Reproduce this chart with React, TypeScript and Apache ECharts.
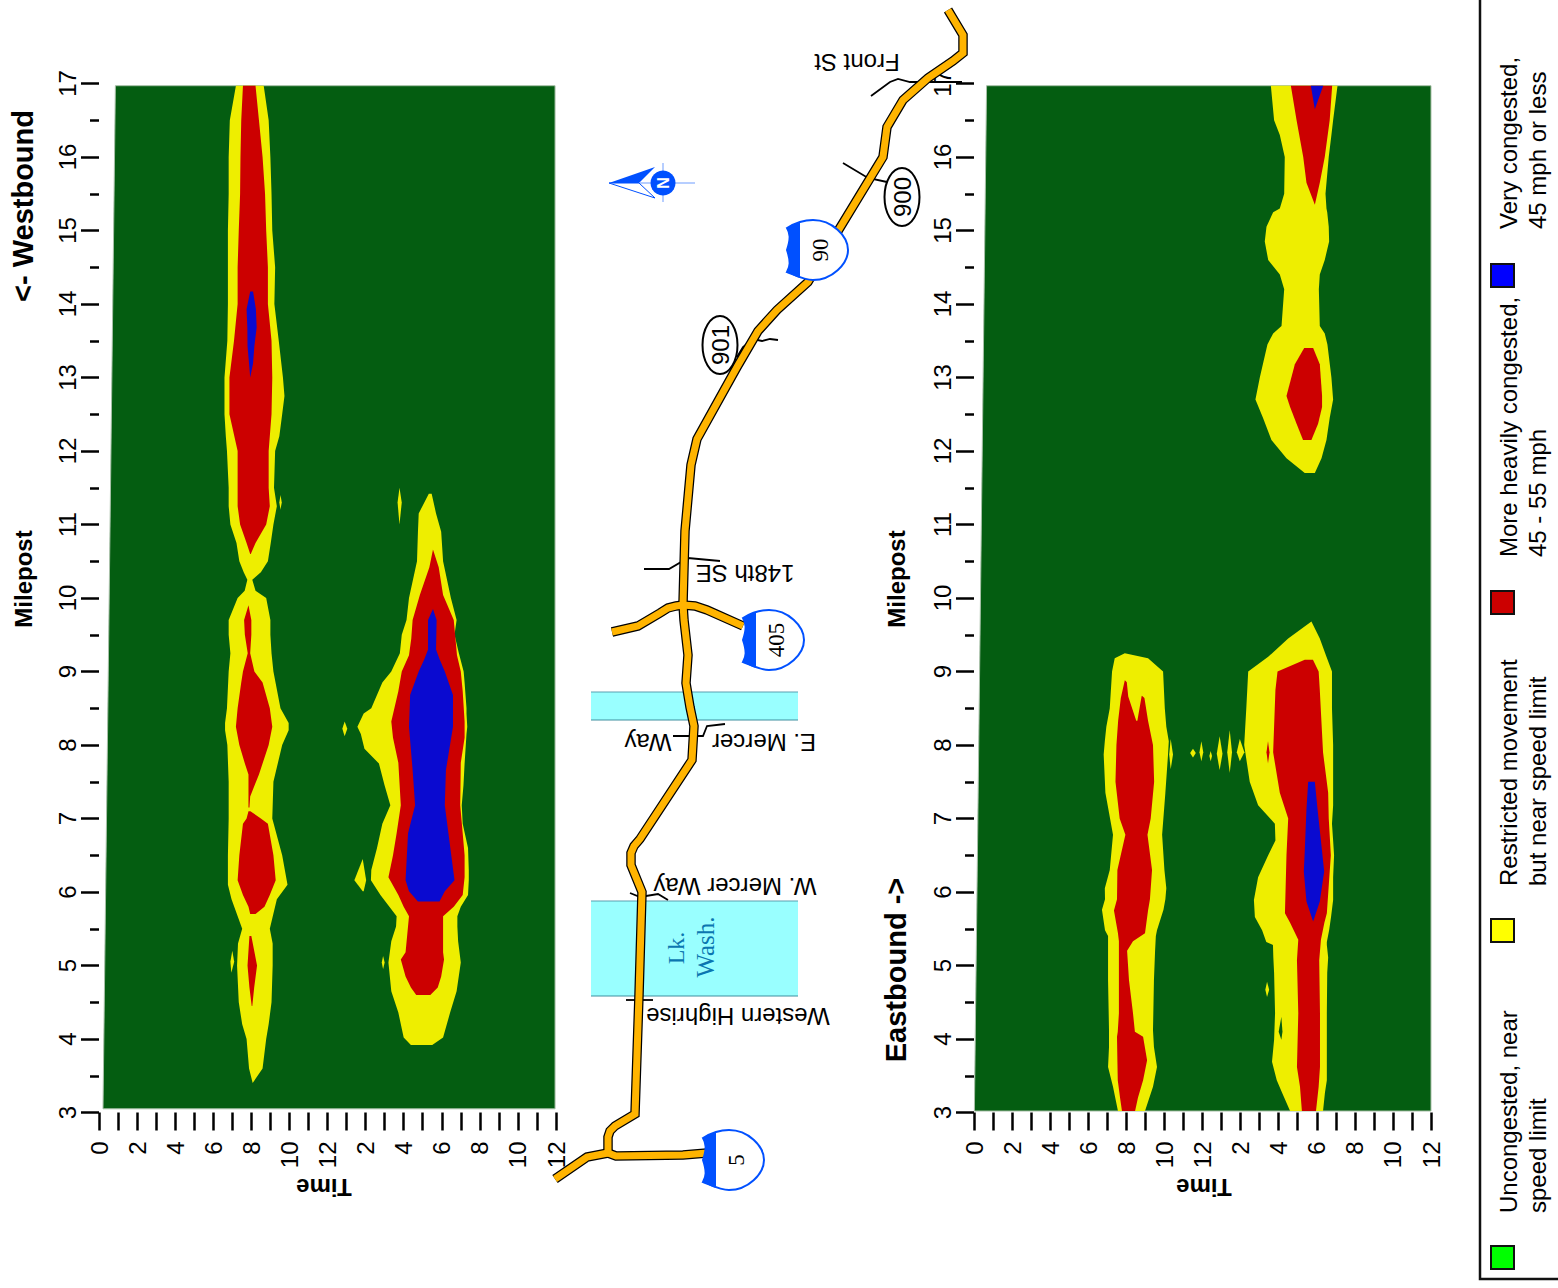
import React, { useEffect, useRef } from "react";
import * as echarts from "echarts";

type Row = [number, number, number]; // milepost, left hour, right hour
type Pt = [number, number];

const timeTickLabels = ["0", "2", "4", "6", "8", "10", "12", "2", "4", "6", "8", "10", "12"];

const westFrame: Pt[] = [[0.21, 3.05], [23.95, 3.05], [23.95, 16.97], [0.86, 16.97]];
const eastFrame: Pt[] = [[0.02, 3.02], [24, 3.02], [24, 16.97], [0.66, 16.97]];

// ---- Westbound, morning
const westAmYellow: Row[] = [
  [16.97, 7.19, 8.65], [16.5, 6.87, 8.91], [16, 6.81, 9.0], [15.5, 6.81, 9.06], [15, 6.77, 9.1], [14.5, 6.77, 9.25],
  [14, 6.77, 9.21], [13.5, 6.74, 9.44], [13, 6.59, 9.66], [12.75, 6.59, 9.74], [12.5, 6.59, 9.62], [12.2, 6.66, 9.47],
  [12, 6.72, 9.25], [11.5, 6.81, 9.19], [11.25, 6.81, 9.34], [11, 6.9, 9.16], [10.75, 7.22, 9.02], [10.5, 7.37, 8.87],
  [10.35, 7.6, 8.5], [10.25, 7.79, 8.05], [10.1, 7.65, 8.22], [10, 7.28, 8.78], [9.7, 6.81, 9.0], [9.5, 6.81, 9.0],
  [9.25, 6.9, 9.06], [9, 6.81, 9.16], [8.5, 6.72, 9.53], [8.3, 6.62, 9.96], [8.2, 6.62, 9.96], [8, 6.74, 9.62],
  [7.5, 6.81, 9.16], [7, 6.81, 9.1], [6.5, 6.77, 9.62], [6.1, 6.77, 9.9], [5.9, 6.96, 9.34], [5.5, 7.52, 8.97],
  [5.3, 7.3, 9.12], [5, 7.25, 9.12], [4.5, 7.34, 9.06], [4.2, 7.52, 8.91], [4, 7.75, 8.78], [3.6, 7.88, 8.59], [3.4, 8.07, 8.07],
];
const westAmBlob1: Row[] = [[11.4, 9.53, 9.53], [11.3, 9.47, 9.6], [11.2, 9.53, 9.53]];
const westAmBlob2: Row[] = [[5.2, 7.0, 7.0], [5.05, 6.9, 7.1], [4.9, 6.95, 6.95]];
const westAmRed1: Row[] = [
  [16.97, 7.56, 8.22], [16.5, 7.47, 8.4], [16, 7.43, 8.59], [15.5, 7.41, 8.72], [15, 7.34, 8.78], [14.5, 7.28, 8.87],
  [14, 7.28, 8.87], [13.5, 7.09, 9.06], [13, 6.85, 9.1], [12.5, 6.85, 9.06], [12, 7.28, 8.91], [11.5, 7.28, 8.91],
  [11.25, 7.28, 8.97], [11, 7.41, 8.78], [10.75, 7.75, 8.22], [10.6, 7.94, 7.97],
];
const westAmRed2: Row[] = [
  [9.9, 7.85, 7.85], [9.7, 7.62, 8.0], [9.5, 7.66, 8.0], [9.25, 7.81, 7.94], [9, 7.56, 8.16], [8.85, 7.47, 8.59],
  [8.5, 7.28, 8.97], [8.25, 7.19, 9.1], [8, 7.37, 8.91], [7.75, 7.66, 8.59], [7.6, 7.85, 8.4], [7.3, 7.85, 7.94], [7.15, 7.85, 7.9],
];
const westAmRed3: Row[] = [
  [7.1, 7.85, 7.95], [7, 7.75, 8.5], [6.93, 7.56, 8.87], [6.5, 7.37, 9.16], [6.16, 7.28, 9.28], [5.96, 7.56, 8.97], [5.8, 7.85, 8.69], [5.7, 7.94, 8.22],
];
const westAmRed4: Row[] = [
  [5.4, 7.9, 8.0], [5.0, 7.8, 8.3], [4.7, 7.9, 8.15], [4.45, 8.02, 8.05],
];
const westAmBlue: Row[] = [
  [14.17, 7.94, 8.09], [13.93, 7.75, 8.24], [13.68, 7.79, 8.28], [13.43, 7.8, 8.16], [13.19, 7.88, 8.09], [13, 7.94, 7.94],
];

// ---- Westbound, afternoon
const westPmYellow: Row[] = [
  [11.42, 17.32, 17.47], [11.15, 16.79, 17.7], [10.9, 16.75, 17.97], [10.5, 16.7, 18.07], [10, 16.28, 18.48], [9.7, 16.15, 18.78],
  [9.5, 15.9, 18.67], [9.25, 15.8, 18.9], [9, 15.35, 19.15], [8.85, 14.88, 19.2], [8.5, 14.3, 19.3], [8.43, 13.9, 19.3],
  [8.25, 13.57, 19.34], [8.15, 13.75, 19.3], [7.95, 13.94, 19.25], [7.75, 14.7, 19.2], [7.45, 15, 19.14], [7.18, 15.3, 19.05],
  [6.93, 14.88, 19.1], [6.6, 14.6, 19.38], [6.3, 14.3, 19.42], [6.16, 14.28, 19.42], [5.96, 14.78, 19.38], [5.8, 15.25, 19],
  [5.67, 15.63, 18.82], [5.53, 15.6, 18.82], [5.33, 15.35, 18.86], [5.04, 15.2, 19], [4.65, 15.35, 18.78], [4.36, 15.72, 18.44],
  [4.02, 16, 18.07], [3.92, 16.38, 17.5],
];
const westPmBlob1: Row[] = [[8.32, 12.9, 12.9], [8.22, 12.78, 13.04], [8.12, 12.9, 12.9]];
const westPmBlob2: Row[] = [[6.45, 13.85, 13.85], [6.16, 13.41, 14.03], [6.01, 13.85, 13.9]];
const westPmBlob3: Row[] = [[5.13, 14.92, 14.92], [5.04, 14.85, 15.0], [4.95, 14.92, 14.92]];
const westPmBlob4: Row[] = [[11.5, 15.78, 15.78], [11.3, 15.68, 15.9], [11.0, 15.78, 15.78]];
const westPmRed: Row[] = [
  [10.66, 17.54, 17.54], [10.42, 17.35, 17.84], [10.04, 16.85, 18.07], [9.7, 16.47, 18.63], [9.45, 16.4, 18.72], [9.22, 16.28, 18.8],
  [9, 15.9, 19.0], [8.73, 15.72, 19.1], [8.32, 15.35, 19.2], [8.1, 15.44, 19.2], [7.76, 15.72, 19], [7.18, 15.85, 18.97],
  [6.8, 15.63, 19.1], [6.5, 15.44, 19.2], [6.2, 15.2, 19.2], [5.96, 15.72, 19.1], [5.8, 16, 18.63], [5.67, 16.28, 18.07],
  [5.18, 16.1, 18.07], [5.08, 15.85, 18.12], [4.85, 16.1, 17.97], [4.7, 16.38, 17.79], [4.6, 16.66, 17.4],
];
const westPmBlue: Row[] = [
  [9.85, 17.54, 17.54], [9.7, 17.28, 17.73], [9.3, 17.28, 17.7], [9.17, 17.09, 17.88], [9, 16.79, 18.16], [8.68, 16.34, 18.59],
  [8.25, 16.28, 18.59], [7.66, 16.47, 18.22], [7.18, 16.6, 18.16], [6.8, 16.23, 18.35], [6.16, 16.1, 18.67], [6.01, 16.28, 18.16], [5.87, 16.75, 17.88],
];

// ---- Eastbound, morning
const eastAmYellow: Row[] = [
  [9.25, 7.92, 7.92], [9.18, 7.39, 9.14], [9, 7.25, 9.93], [8.5, 7.13, 10.02], [8.25, 6.95, 10.1], [8.05, 6.87, 10.23],
  [7.87, 6.81, 10.19], [7.35, 6.9, 10.05], [6.78, 7.3, 9.88], [6.3, 7.13, 10.0], [6.05, 6.87, 10.1], [5.9, 6.88, 10.05], [5.76, 6.72, 9.95],
  [5.48, 6.88, 9.61], [5.4, 7.04, 9.55], [5.2, 7.04, 9.51], [4.8, 7.04, 9.45], [4.12, 7.09, 9.4], [3.89, 7.09, 9.45], [3.62, 7.04, 9.61],
  [3.35, 7.3, 9.4], [3.02, 7.56, 8.98],
];
const eastAmRed: Row[] = [
  [8.88, 7.92, 7.92], [8.64, 7.71, 8.95], [8.33, 7.57, 9.14], [8, 7.48, 9.4], [7.5, 7.43, 9.46], [7, 7.65, 9.28],
  [6.78, 7.95, 9.11], [6.3, 7.53, 9.35], [5.9, 7.51, 9.24], [5.75, 7.35, 9.14], [5.44, 7.56, 8.98], [5.33, 7.61, 8.35], [5.2, 7.61, 8.04],
  [4.8, 7.61, 8.14], [4.35, 7.61, 8.35], [4.1, 7.55, 8.45], [4.03, 7.51, 8.88], [3.71, 7.53, 9.09], [3.44, 7.55, 8.88], [3.2, 7.67, 8.61],
  [3.02, 7.77, 8.46],
];
const eastAmNotch: Row[] = [[8.92, 8.0, 9.2], [8.66, 8.1, 8.8], [8.33, 8.52, 8.58]];
const eastAmBlob: Row[] = [[8.08, 10.33, 10.33], [7.87, 10.25, 10.45], [7.67, 10.33, 10.33]];

// ---- Eastbound, midday gaps
const eastGap1: Row[] = [[7.95, 11.5, 11.5], [7.89, 11.35, 11.65], [7.83, 11.5, 11.5]];
const eastGap2: Row[] = [[8.05, 11.94, 11.94], [7.9, 11.84, 12.04], [7.78, 11.94, 11.94]];
const eastGap3: Row[] = [[7.92, 12.43, 12.43], [7.85, 12.36, 12.5], [7.78, 12.43, 12.43]];
const eastGap4: Row[] = [[8.12, 12.9, 12.9], [7.88, 12.75, 13.05], [7.66, 12.9, 12.9]];
const eastGap5: Row[] = [[8.2, 13.43, 13.43], [7.9, 13.3, 13.55], [7.62, 13.43, 13.43]];
const eastGap6: Row[] = [[8.08, 13.96, 13.96], [7.9, 13.8, 14.2], [7.78, 13.96, 13.96]];

// ---- Eastbound, afternoon
const eastPmYellowTop: Row[] = [
  [16.97, 15.59, 19.09], [16.5, 15.76, 18.86], [16.3, 16.06, 18.77], [16, 16.32, 18.63], [15.5, 16.29, 18.46], [15.3, 16.06, 18.51],
  [15.25, 15.71, 18.55], [15.05, 15.36, 18.63], [14.85, 15.27, 18.65], [14.6, 15.45, 18.42], [14.4, 16.06, 18.16], [14.2, 16.29, 18.11],
  [13.7, 16.15, 18.16], [13.6, 15.71, 18.42], [13.45, 15.41, 18.56], [13, 15.01, 18.77], [12.7, 14.78, 18.86], [12.45, 15.18, 18.68],
  [12.15, 15.62, 18.51], [11.9, 16.41, 18.25], [11.7, 17.37, 17.9],
];
const eastPmRedTop: Row[] = [
  [16.97, 16.64, 18.81], [16.5, 16.94, 18.68], [16, 17.29, 18.42], [15.65, 17.46, 18.16], [15.35, 17.9, 17.9],
];
const eastPmBlueTop: Row[] = [[16.97, 17.69, 18.34], [16.65, 17.9, 17.9]];
const eastPmRedMid: Row[] = [
  [13.4, 17.34, 17.81], [13.18, 16.85, 18.16], [12.75, 16.41, 18.28], [12.6, 16.6, 18.28], [12.37, 16.94, 18.07], [12.15, 17.28, 17.72],
];
const eastPmYellow: Row[] = [
  [9.68, 17.72, 17.72], [9.45, 16.5, 18.16], [9.2, 15.45, 18.51], [9, 14.4, 18.8], [8.5, 14.3, 18.8], [8, 14.19, 18.86],
  [7.5, 14.48, 18.86], [7.18, 14.92, 18.86], [6.93, 15.8, 18.8], [6.7, 15.83, 18.86], [6.5, 15.45, 18.91], [6.2, 14.92, 18.86],
  [5.89, 14.7, 18.86], [5.66, 14.75, 18.75], [5.48, 15.13, 18.65], [5.32, 15.35, 18.53], [5.28, 15.7, 18.53], [5.11, 15.72, 18.6],
  [4.9, 15.76, 18.55], [4.35, 15.81, 18.53], [3.99, 15.76, 18.53], [3.69, 15.65, 18.53], [3.44, 15.9, 18.53], [3.27, 16.18, 18.43],
  [3.02, 16.6, 18.33],
];
const eastPmBlob: Row[] = [[4.78, 15.39, 15.39], [4.67, 15.3, 15.5], [4.57, 15.39, 15.39]];
const eastPmHole: Row[] = [[4.3, 16.14, 16.14], [4.1, 16.0, 16.2], [3.99, 16.14, 16.14]];
const eastPmRed: Row[] = [
  [9.16, 17.37, 17.8], [9, 15.94, 18.1], [8.75, 15.83, 18.16], [7.9, 15.71, 18.33], [7.35, 16.06, 18.6], [7, 16.5, 18.63],
  [6.5, 16.41, 18.74], [5.71, 16.33, 18.53], [5.58, 16.6, 18.4], [5.35, 17.03, 18.22], [5.07, 16.96, 18.13], [4.35, 17.03, 18.17],
  [3.62, 16.96, 18.17], [3.35, 17.12, 18.1], [3.02, 17.22, 17.96],
];
const eastPmRedSpeck: Row[] = [[8.05, 15.44, 15.44], [7.9, 15.36, 15.52], [7.75, 15.44, 15.44]];
const eastPmBlue: Row[] = [
  [7.5, 17.55, 17.9], [7.13, 17.46, 18.04], [6.55, 17.37, 18.28], [6.28, 17.32, 18.39], [5.87, 17.46, 18.16], [5.6, 17.81, 17.81],
];

// ---- Map, in page units
const roadMain: Pt[] = [
  [948, 10], [963, 35], [963, 53], [953, 61], [928, 78], [903, 100], [887, 127], [883, 157], [838, 231], [808, 282], [777, 310],
  [758, 331], [737, 367], [697, 439], [691, 465], [685, 531], [683, 604], [684, 620], [688, 655], [686, 683], [690, 707], [694, 726],
  [692, 760], [640, 839], [634, 846], [631, 853], [631, 865], [642, 892], [639, 995], [635, 1114], [615, 1126], [610, 1131], [608, 1137], [608, 1153],
];
const roadI5North: Pt[] = [[608, 1153], [616, 1156], [683, 1155], [707, 1153]];
const roadI5South: Pt[] = [[608, 1153], [587, 1157], [555, 1179]];
const road405: Pt[] = [[612, 632], [638, 626], [660, 613], [668, 608], [676, 606], [683, 605], [695, 606], [707, 610], [743, 626]];
const streets: Pt[][] = [
  [[871, 96], [890, 82], [898, 79], [910, 82], [962, 82]],
  [[843, 163], [868, 178], [887, 182]],
  [[778, 340], [770, 339], [762, 341], [753, 339], [743, 347], [737, 357]],
  [[644, 569], [669, 569], [688, 558], [720, 561]],
  [[673, 736], [703, 736], [707, 726], [725, 724]],
  [[630, 893], [640, 897], [658, 894], [668, 900]],
  [[626, 1000], [653, 1000]],
];
const lakes: [number, number, number, number][] = [[591, 692, 798, 720], [591, 901, 798, 996]];

const mapLabels: [string, number, number][] = [
  ["Front St", 857, 62], ["148th SE", 745, 573], ["E. Mercer", 764, 742], ["Way", 648, 742],
  ["W. Mercer Way", 735, 886], ["Western Highrise", 738, 1016],
];
const axisTitles: [string, number, number, number, number][] = [
  ["<- Westbound", 23, 206, 29, 90], ["Milepost", 23, 579, 24, 90], ["Milepost", 896, 579, 24, 90],
  ["Eastbound ->", 896, 970, 29, 90], ["Time", 324, 1187, 24, 180], ["Time", 1204, 1187, 24, 180],
];
const legendItems: [string, number, string, string, number][] = [
  ["#00ff00", 1246, "Uncongested, near", "speed limit", 1213],
  ["#ffff00", 919, "Restricted movement", "but near speed limit", 886],
  ["#cc0000", 591, "More heavily congested,", "45 - 55 mph", 557],
  ["#0000ff", 264, "Very congested,", "45 mph or less", 229],
];
const shields: [string, number, number][] = [["90", 787, 220], ["405", 743, 610], ["5", 703, 1130]];
const routes: [string, number, number][] = [["901", 720, 345], ["900", 902, 197]];

const GREEN = "#045d11";
const YELLOW = "#eeee00";
const RED = "#cc0000";
const BLUE = "#0a0ad0";
const SANS = "Liberation Sans, Arial, sans-serif";
const SERIF = "Liberation Serif, Times New Roman, serif";

const westLayers: [string, Row[]][] = [
  [YELLOW, westAmYellow], [YELLOW, westAmBlob1], [YELLOW, westAmBlob2], [RED, westAmRed1], [RED, westAmRed2], [RED, westAmRed3],
  [RED, westAmRed4], [BLUE, westAmBlue], [YELLOW, westPmYellow], [YELLOW, westPmBlob1], [YELLOW, westPmBlob2], [YELLOW, westPmBlob3],
  [YELLOW, westPmBlob4], [RED, westPmRed], [BLUE, westPmBlue],
];
const eastLayers: [string, Row[]][] = [
  [YELLOW, eastAmYellow], [RED, eastAmRed], [YELLOW, eastAmNotch], [YELLOW, eastAmBlob], [YELLOW, eastGap1], [YELLOW, eastGap2],
  [YELLOW, eastGap3], [YELLOW, eastGap4], [YELLOW, eastGap5], [YELLOW, eastGap6], [YELLOW, eastPmYellowTop], [RED, eastPmRedTop],
  [BLUE, eastPmBlueTop], [RED, eastPmRedMid], [YELLOW, eastPmYellow], [YELLOW, eastPmBlob], [GREEN, eastPmHole], [RED, eastPmRed],
  [RED, eastPmRedSpeck], [BLUE, eastPmBlue],
];

const SHIELD_BODY = "M0 8 C8 3 17 0 26 0 C45 0 61 16 61 30 C61 44 45 60 26 60 C17 60 8 55 0 52 C3 47 4 42 0 30 C4 18 3 13 0 8 Z";
const SHIELD_BAND = "M0 8 C4 6 9 3 13 2 L13 58 C9 57 4 54 0 52 C3 47 4 42 0 30 C4 18 3 13 0 8 Z";
echarts.graphic.registerShape("shieldBody", echarts.graphic.extendPath(SHIELD_BODY, {}));
echarts.graphic.registerShape("shieldBand", echarts.graphic.extendPath(SHIELD_BAND, {}));

const bandToPolygon = (rows: Row[]): Pt[] => [
  ...rows.map((r) => [r[1], r[0]] as Pt),
  ...rows.slice().reverse().map((r) => [r[2], r[0]] as Pt),
];

const contourSeries = (gridIndex: number, frame: Pt[], layers: [string, Row[]][]) => {
  const polys: { color: string; pts: Pt[]; frame?: boolean }[] = [
    { color: GREEN, pts: frame, frame: true },
    ...layers.map(([color, rows]) => ({ color, pts: bandToPolygon(rows) })),
  ];
  return {
    type: "custom",
    xAxisIndex: gridIndex,
    yAxisIndex: gridIndex,
    clip: false,
    silent: true,
    data: polys.map((p) => p.pts[0]),
    renderItem: (params: any, api: any) => {
      const p = polys[params.dataIndex];
      return {
        type: "polygon",
        shape: { points: p.pts.map((q) => api.coord(q)) },
        style: p.frame ? { fill: p.color, stroke: "#a8c0a8", lineWidth: 1 } : { fill: p.color },
      };
    },
  };
};

const timeAxis = (gridIndex: number) => ({
  type: "value",
  gridIndex,
  min: 0,
  max: 24,
  interval: 1,
  axisLine: { show: false },
  splitLine: { show: false },
  axisTick: { show: true, length: 18, lineStyle: { color: "#000", width: 2.5 } },
  axisLabel: {
    show: true,
    rotate: 90,
    margin: 29,
    fontSize: 24,
    fontFamily: SANS,
    color: "#000",
    hideOverlap: false,
    formatter: (v: number) => (v % 2 === 0 ? timeTickLabels[v / 2] : ""),
  },
});

const mileAxis = (gridIndex: number) => ({
  type: "value",
  gridIndex,
  min: 3,
  max: 17,
  interval: 1,
  axisLine: { show: false },
  splitLine: { show: false },
  axisTick: { show: true, length: 18, lineStyle: { color: "#000", width: 2.5 } },
  minorTick: { show: true, splitNumber: 2, length: 9, lineStyle: { color: "#000", width: 2.5 } },
  minorSplitLine: { show: false },
  axisLabel: { show: true, rotate: 90, margin: 20, fontSize: 24, fontFamily: SANS, color: "#000", hideOverlap: false },
});

const lineOf = (pts: Pt[], color: string, width: number, z = 3) => ({
  type: "line",
  xAxisIndex: 2,
  yAxisIndex: 2,
  data: pts,
  symbol: "none",
  silent: true,
  z,
  clip: false,
  lineStyle: { color, width, cap: "butt", join: "miter" },
});

const txt = (text: string, x: number, y: number, deg: number, font: string, fill = "#000", align = "center") => ({
  type: "text",
  x,
  y,
  rotation: (deg * Math.PI) / 180,
  z: 20,
  silent: true,
  style: { text, font, fill, textAlign: align, textVerticalAlign: "middle" },
});

const SHIELD_BLUE = "#0050ff";

export default function App() {
  const ref = useRef<HTMLDivElement>(null);
  useEffect(() => {
    document.body.style.margin = "0";
    const chart = echarts.init(ref.current!, undefined, { renderer: "svg" });
    const roads = [roadMain, roadI5North, roadI5South, road405];
    const graphicEls: any[] = [];

    axisTitles.forEach(([t, x, y, s, deg]) => graphicEls.push(txt(t, x, y, deg, `bold ${s}px ${SANS}`)));
    mapLabels.forEach(([t, x, y]) => graphicEls.push(txt(t, x, y, 180, `24px ${SANS}`)));
    graphicEls.push(txt("Lk.", 676, 948, 90, `24px ${SERIF}`, "#0b76b0"));
    graphicEls.push(txt("Wash.", 705, 947, 90, `25px ${SERIF}`, "#0b76b0"));

    shields.forEach(([t, x, y]) => {
      graphicEls.push({ type: "shieldBody", x, y, z: 10, silent: true, style: { fill: "#fff", stroke: SHIELD_BLUE, lineWidth: 2 } });
      graphicEls.push({ type: "shieldBand", x, y, z: 11, silent: true, style: { fill: SHIELD_BLUE } });
      graphicEls.push(txt(t, x + 33, y + 30, 90, `23px ${SERIF}`));
    });
    routes.forEach(([t, x, y]) => {
      graphicEls.push({ type: "ellipse", z: 10, silent: true, shape: { cx: x, cy: y, rx: 17.5, ry: 29 }, style: { fill: "#fff", stroke: "#000", lineWidth: 2 } });
      graphicEls.push(txt(t, x, y, 90, `24px ${SANS}`));
    });

    // north arrow
    graphicEls.push({ type: "line", z: 9, silent: true, shape: { x1: 640, y1: 183, x2: 695, y2: 183 }, style: { stroke: "#6f9dff", lineWidth: 1 } });
    graphicEls.push({ type: "line", z: 9, silent: true, shape: { x1: 663, y1: 163, x2: 663, y2: 202 }, style: { stroke: "#6f9dff", lineWidth: 1 } });
    graphicEls.push({ type: "polygon", z: 10, silent: true, shape: { points: [[609, 183], [655, 167], [639, 183]] }, style: { fill: SHIELD_BLUE } });
    graphicEls.push({ type: "polygon", z: 10, silent: true, shape: { points: [[609, 183], [655, 198], [639, 183]] }, style: { fill: "#fff", stroke: SHIELD_BLUE, lineWidth: 1 } });
    graphicEls.push({ type: "circle", z: 10, silent: true, shape: { cx: 663, cy: 183, r: 12.5 }, style: { fill: SHIELD_BLUE } });
    graphicEls.push(txt("N", 663, 183, 90, `bold 16px ${SANS}`, "#fff"));

    // legend
    graphicEls.push({ type: "polyline", z: 5, silent: true, shape: { points: [[1480, 0], [1480, 1279], [1558, 1279]] }, style: { stroke: "#111", lineWidth: 2.5, fill: "none" } });
    legendItems.forEach(([color, y, l1, l2, textY]) => {
      graphicEls.push({ type: "rect", z: 10, silent: true, shape: { x: 1491, y, width: 23, height: 23 }, style: { fill: color, stroke: "#111", lineWidth: 2 } });
      graphicEls.push(txt(l1, 1508, textY, 90, `24px ${SANS}`, "#000", "left"));
      graphicEls.push(txt(l2, 1537, textY, 90, `24px ${SANS}`, "#000", "left"));
    });

    chart.setOption({
      animation: false,
      backgroundColor: "#fff",
      grid: [
        { left: 99, top: 83.5, width: 457, height: 1029 },
        { left: 974, top: 83.5, width: 457, height: 1029 },
        { left: 0, top: 0, width: 1558, height: 1288 },
      ],
      xAxis: [timeAxis(0), timeAxis(1), { type: "value", gridIndex: 2, min: 0, max: 1558, show: false }],
      yAxis: [mileAxis(0), mileAxis(1), { type: "value", gridIndex: 2, min: 0, max: 1288, inverse: true, show: false }],
      series: [
        contourSeries(0, westFrame, westLayers),
        contourSeries(1, eastFrame, eastLayers),
        {
          type: "custom",
          xAxisIndex: 2,
          yAxisIndex: 2,
          silent: true,
          clip: false,
          z: 3,
          data: lakes,
          renderItem: (_: any, api: any) => {
            const a = api.coord([api.value(0), api.value(1)]);
            const b = api.coord([api.value(2), api.value(3)]);
            return {
              type: "group",
              children: [
                { type: "rect", shape: { x: a[0], y: a[1], width: b[0] - a[0], height: b[1] - a[1] }, style: { fill: "#99ffff" } },
                { type: "line", shape: { x1: a[0], y1: a[1], x2: b[0], y2: a[1] }, style: { stroke: "#5a9fb0", lineWidth: 1 } },
                { type: "line", shape: { x1: a[0], y1: b[1], x2: b[0], y2: b[1] }, style: { stroke: "#3f8f9f", lineWidth: 1 } },
              ],
            };
          },
        },
        ...streets.map((s) => lineOf(s, "#000", 1.8, 4)),
        ...roads.map((r) => lineOf(r, "#000", 9.5, 5)),
        ...roads.map((r) => lineOf(r, "#ffb400", 7, 6)),
      ],
      graphic: { elements: graphicEls },
    });
    return () => chart.dispose();
  }, []);
  return <div ref={ref} style={{ position: "absolute", left: 0, top: 0, width: 1558, height: 1288 }} />;
}
